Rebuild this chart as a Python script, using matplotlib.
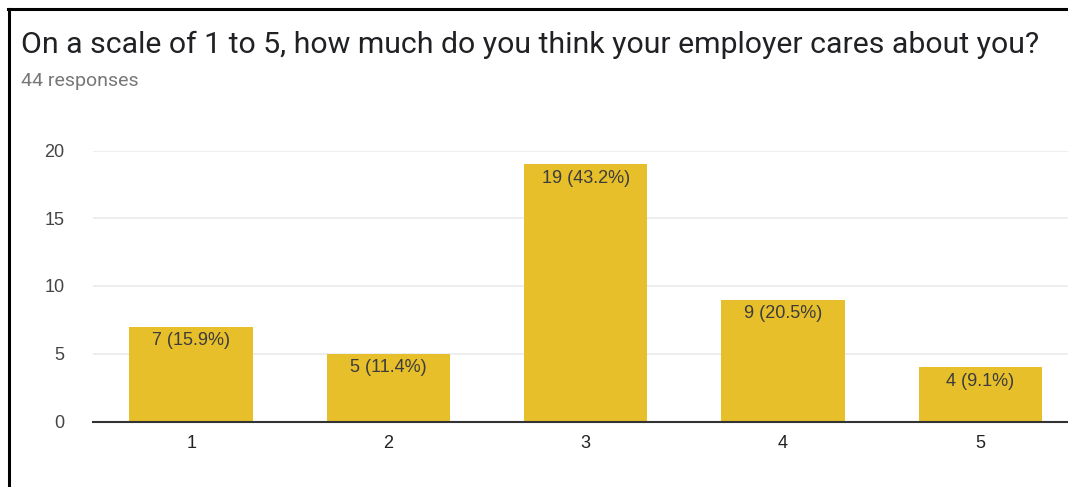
import matplotlib.pyplot as plt
from matplotlib.lines import Line2D

categories = ['1', '2', '3', '4', '5']
counts = [7, 5, 19, 9, 4]
percents = [15.9, 11.4, 43.2, 20.5, 9.1]
y_ticks = [0, 5, 10, 15, 20]

title = 'On a scale of 1 to 5, how much do you think your employer cares about you?'
subtitle = '44 responses'

W, H = 1068, 487
plt.rcParams['font.family'] = ['Liberation Sans', 'DejaVu Sans']

fig = plt.figure(figsize=(W / 100, H / 100), dpi=100)
fig.patch.set_facecolor('white')

# plot area in pixel coordinates (runs past the right edge, like the screenshot)
left, right, top, bottom = 92.5, 1079, 150.5, 421.5
ax = fig.add_axes([left / W, 1 - bottom / H, (right - left) / W, (bottom - top) / H])

x = range(1, len(categories) + 1)
ax.bar(x, counts, width=0.625, color='#e6bf2b', zorder=2)
for xi, c, p in zip(x, counts, percents):
    ax.annotate(f'{c} ({p}%)', (xi, c), xytext=(0, -4), textcoords='offset points',
                ha='center', va='top', fontsize=13, color='#3c3c3c', zorder=3)

ax.set_xlim(0.5, len(categories) + 0.5)
ax.set_ylim(0, 20)
ax.set_xticks(list(x))
ax.set_xticklabels(categories)
ax.set_yticks(y_ticks)
ax.grid(axis='y', color='#ebebeb', linewidth=1.2, zorder=0)
ax.tick_params(axis='both', length=0, labelsize=13, labelcolor='#444444')
ax.tick_params(axis='x', pad=10, labelcolor='#222222')
ax.tick_params(axis='y', pad=20)
for s in ['top', 'right', 'left']:
    ax.spines[s].set_visible(False)
ax.spines['bottom'].set_color('#333333')
ax.spines['bottom'].set_linewidth(1.5)
ax.spines['bottom'].set_zorder(4)

fig.text(21 / W, 1 - 53 / H, title, fontsize=21.8, color='#202124', va='baseline',
         family=['Roboto', 'DejaVu Sans'])
fig.text(21 / W, 1 - 86 / H, subtitle, fontsize=14, color='#777777', va='baseline',
         family=['Roboto', 'DejaVu Sans'])

# black frame on the left and top
fig.add_artist(Line2D([9 / W, 9 / W], [0, 1 - 9 / H], color='black', linewidth=2.2))
fig.add_artist(Line2D([8 / W, 1], [1 - 9 / H, 1 - 9 / H], color='black', linewidth=2.2))

fig.savefig('out.png', dpi=100)
